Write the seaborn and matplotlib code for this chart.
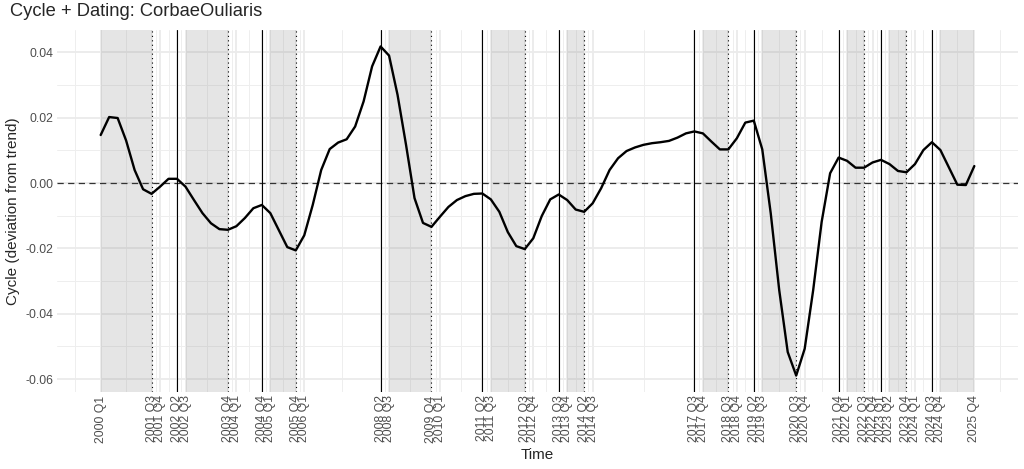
import matplotlib
matplotlib.use("Agg")
import matplotlib.pyplot as plt
import seaborn as sns
import pandas as pd
import numpy as np

# quarterly cycle estimate, 2000 Q1 .. 2025 Q4
quarters = pd.period_range("2000Q1", "2025Q4", freq="Q")
cycle = [
    0.0147, 0.0202, 0.0199, 0.0130, 0.0040, -0.0019, -0.0033, -0.0011, 0.0013, 0.0013,
    -0.0011, -0.0052, -0.0092, -0.0123, -0.0141, -0.0143, -0.0132, -0.0107, -0.0077, -0.0067,
    -0.0092, -0.0144, -0.0196, -0.0206, -0.0160, -0.0067, 0.0040, 0.0104, 0.0124, 0.0134,
    0.0173, 0.0250, 0.0357, 0.0418, 0.0390, 0.0270, 0.0117, -0.0046, -0.0122, -0.0134,
    -0.0103, -0.0073, -0.0052, -0.0040, -0.0033, -0.0032, -0.0050, -0.0088, -0.0150, -0.0193,
    -0.0202, -0.0169, -0.0101, -0.0050, -0.0035, -0.0052, -0.0081, -0.0088, -0.0062, -0.0016,
    0.0040, 0.0076, 0.0098, 0.0109, 0.0117, 0.0122, 0.0125, 0.0129, 0.0139, 0.0152,
    0.0158, 0.0152, 0.0127, 0.0103, 0.0103, 0.0137, 0.0185, 0.0191, 0.0103, -0.0093,
    -0.0328, -0.0517, -0.0589, -0.0507, -0.0328, -0.0119, 0.0030, 0.0078, 0.0068, 0.0047,
    0.0047, 0.0063, 0.0071, 0.0058, 0.0037, 0.0033, 0.0058, 0.0101, 0.0125, 0.0101,
    0.0048, -0.0005, -0.0006, 0.0052,
]

# turning points
peaks = ["2002 Q2", "2004 Q4", "2008 Q2", "2011 Q2", "2013 Q3",
         "2017 Q3", "2019 Q2", "2021 Q4", "2023 Q1", "2024 Q3"]
troughs = ["2001 Q3", "2003 Q4", "2005 Q4", "2009 Q4", "2012 Q3",
           "2014 Q2", "2018 Q3", "2020 Q3", "2022 Q3", "2023 Q4"]

# contraction phases (shaded)
shade_start = ["2000 Q1", "2002 Q3", "2005 Q1", "2008 Q3", "2011 Q3", "2013 Q4",
               "2017 Q4", "2019 Q3", "2022 Q1", "2023 Q2", "2024 Q4"]
shade_end = ["2001 Q3", "2003 Q4", "2005 Q4", "2009 Q4", "2012 Q3", "2014 Q2",
             "2018 Q3", "2020 Q3", "2022 Q3", "2023 Q4", "2025 Q4"]

tick_labels = [
    "2000 Q1", "2001 Q3", "2001 Q4", "2002 Q2", "2002 Q3", "2003 Q4", "2004 Q1",
    "2004 Q4", "2005 Q1", "2005 Q4", "2006 Q1", "2008 Q2", "2008 Q3", "2009 Q4",
    "2010 Q1", "2011 Q2", "2011 Q3", "2012 Q3", "2012 Q4", "2013 Q3", "2013 Q4",
    "2014 Q2", "2014 Q3", "2017 Q3", "2017 Q4", "2018 Q3", "2018 Q4", "2019 Q2",
    "2019 Q3", "2020 Q3", "2020 Q4", "2021 Q4", "2022 Q1", "2022 Q3", "2022 Q4",
    "2023 Q1", "2023 Q2", "2023 Q4", "2024 Q1", "2024 Q3", "2024 Q4", "2025 Q4",
]

qlab = [f"{q.year} Q{q.quarter}" for q in quarters]
pos = {lab: i for i, lab in enumerate(qlab)}
df = pd.DataFrame({"t": np.arange(len(qlab)), "cycle": cycle})

sns.set_style("white")
plt.rcParams["font.family"] = ["Liberation Sans", "DejaVu Sans"]

fig = plt.figure(figsize=(10.24, 4.69), dpi=100)
ax = fig.add_axes([57 / 1024, 1 - 392 / 469, (1018 - 57) / 1024, (392 - 30) / 469])

# axis limits with ggplot-like 5% expansion
n = len(qlab) - 1
ax.set_xlim(-0.05 * n, n * 1.05)
ymin, ymax = min(cycle), max(cycle)
yr = ymax - ymin
ax.set_ylim(ymin - 0.05 * yr, ymax + 0.05 * yr)

# gridlines (major at breaks, minor halfway)
xb = [pos[l] for l in tick_labels]
bd = xb[1] - xb[0]
ext = [xb[0] - bd] + xb + [xb[-1] + bd]
xminor = [(a + b) / 2 for a, b in zip(ext[:-1], ext[1:])]
for x in xminor:
    ax.axvline(x, color="#EEEEEE", lw=0.7, zorder=0)
for x in xb:
    ax.axvline(x, color="#EBEBEB", lw=1.3, zorder=0)
yb = [0.04, 0.02, 0.0, -0.02, -0.04, -0.06]
for y in [0.05, 0.03, 0.01, -0.01, -0.03, -0.05]:
    ax.axhline(y, color="#EEEEEE", lw=0.7, zorder=0)
for y in yb:
    ax.axhline(y, color="#EBEBEB", lw=1.3, zorder=0)

for s, e in zip(shade_start, shade_end):
    ax.axvspan(pos[s], pos[e], color="grey", alpha=0.2, lw=0, zorder=1)

ax.axhline(0, color="#333333", lw=0.9, ls=(0, (5, 3.5)), zorder=2)
for p in peaks:
    ax.axvline(pos[p], color="black", lw=0.8, zorder=2)
for t in troughs:
    ax.axvline(pos[t], color="black", lw=0.8, ls=(0, (1, 3)), zorder=2)

sns.lineplot(data=df, x="t", y="cycle", color="black", linewidth=1.7, ax=ax, zorder=3)

ax.set_xticks(xb)
ax.set_xticklabels(tick_labels, rotation=90, fontsize=8.8, color="#4D4D4D")
ax.set_yticks(yb)
ax.set_yticklabels([f"{v:.2f}" for v in yb], fontsize=8.8, color="#4D4D4D")
ax.tick_params(length=0, pad=2.5)
for sp in ax.spines.values():
    sp.set_visible(False)

ax.set_xlabel("Time", fontsize=11, labelpad=4)
ax.set_ylabel("Cycle (deviation from trend)", fontsize=11, labelpad=4)
fig.text(10 / 1024, 1 - 3 / 469, "Cycle + Dating: CorbaeOuliaris", fontsize=13.2,
         ha="left", va="top")

fig.savefig("out.png", dpi=100)
